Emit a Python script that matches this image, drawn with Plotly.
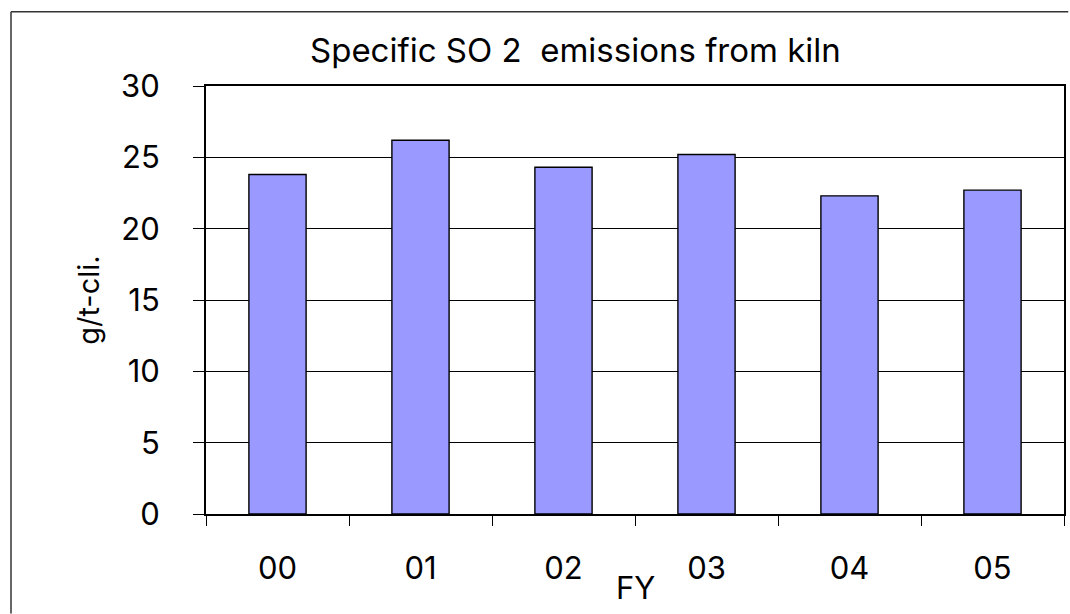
import plotly.graph_objects as go

# Fiscal-year categories and specific SO2 emissions (g per tonne of clinker)
fiscal_years = ["00", "01", "02", "03", "04", "05"]
so2_emissions = [23.8, 26.2, 24.3, 25.2, 22.3, 22.7]
y_ticks = [0, 5, 10, 15, 20, 25, 30]

W, H = 1070, 614
M_LEFT, M_RIGHT, M_TOP, M_BOTTOM = 205.5, 4.3, 86.3, 99.5
PW = W - M_LEFT - M_RIGHT
PH = H - M_TOP - M_BOTTOM

FONT = "Inter, Liberation Sans, Arial, sans-serif"


def px_to_paper_x(px):
    return (px - M_LEFT) / PW


def px_to_paper_y(py):
    return (H - M_BOTTOM - py) / PH


fig = go.Figure(
    go.Bar(
        x=fiscal_years,
        y=so2_emissions,
        marker=dict(color="#9999FF", line=dict(color="black", width=1.4)),
        hoverinfo="x+y",
    )
)

fig.update_layout(
    width=W,
    height=H,
    margin=dict(l=M_LEFT, r=M_RIGHT, t=M_TOP, b=M_BOTTOM, pad=0),
    paper_bgcolor="white",
    plot_bgcolor="white",
    bargap=0.6,
    showlegend=False,
    font=dict(family=FONT, color="black"),
    xaxis=dict(
        type="category",
        showgrid=False,
        showline=True,
        linecolor="black",
        linewidth=2,
        mirror=True,
        ticks="outside",
        tickson="boundaries",
        ticklen=10,
        tickcolor="black",
        tickwidth=1,
        ticklabelstandoff=26,
        tickfont=dict(size=31, family=FONT, color="black"),
    ),
    yaxis=dict(
        range=[0, 30],
        tickvals=y_ticks,
        showgrid=True,
        gridcolor="black",
        gridwidth=1,
        zeroline=False,
        showline=True,
        linecolor="black",
        linewidth=2,
        mirror=True,
        ticks="outside",
        ticklen=11,
        tickcolor="black",
        tickwidth=1,
        ticklabelstandoff=27,
        tickfont=dict(size=31, family=FONT, color="black"),
    ),
    annotations=[
        dict(
            text="Specific SO 2\u00a0 emissions from kiln",
            xref="paper", yref="paper",
            x=px_to_paper_x(576), y=px_to_paper_y(50),
            xanchor="center", yanchor="middle",
            showarrow=False,
            font=dict(size=33, family=FONT, color="black"),
        ),
        dict(
            text="FY",
            xref="paper", yref="paper",
            x=0.5, y=px_to_paper_y(588),
            xanchor="center", yanchor="middle",
            showarrow=False,
            font=dict(size=31, family=FONT, color="black"),
        ),
        dict(
            text="g/t-cli.",
            xref="paper", yref="paper",
            x=px_to_paper_x(87), y=0.5,
            xanchor="center", yanchor="middle",
            textangle=-90,
            showarrow=False,
            font=dict(size=29, family=FONT, color="black"),
        ),
    ],
    shapes=[
        # outer chart frame: top and left edges
        dict(
            type="line",
            xref="paper", yref="paper",
            x0=px_to_paper_x(10), x1=px_to_paper_x(W),
            y0=px_to_paper_y(12), y1=px_to_paper_y(12),
            line=dict(color="#333333", width=1.5),
            layer="above",
        ),
        dict(
            type="line",
            xref="paper", yref="paper",
            x0=px_to_paper_x(10), x1=px_to_paper_x(10),
            y0=px_to_paper_y(12), y1=px_to_paper_y(H),
            line=dict(color="#333333", width=1.5),
            layer="above",
        ),
    ],
)

fig.write_html("out.html")
